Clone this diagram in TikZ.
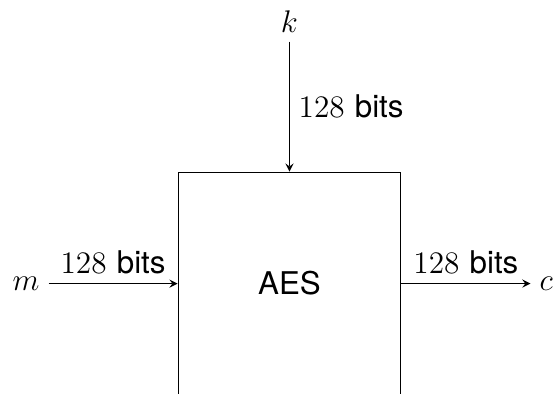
\documentclass[tikz,border=0pt]{standalone}
\usepackage{fontspec}
\setsansfont{TeX Gyre Heros}
\begin{document}
\begin{tikzpicture}[>=stealth, every node/.style={font=\fontsize{12}{14.4}\selectfont}]
\clip (-3.90,-1.48) rectangle (3.55,3.82);
\node[draw, minimum size=3cm] (aes) at (0,0) {\textsf{AES}};
\node (k) at (0,3.53) {$k$};
\node (m) at (-3.55,0) {$m$};
\node (c) at (3.46,0) {$c$};
\draw[->] (k) -- (aes) node[midway, right] {$128$ \textsf{bits}};
\draw[->] (m) -- (aes) node[midway, above] {$128$ \textsf{bits}};
\draw[->] (aes) -- (c) node[midway, above] {$128$ \textsf{bits}};
\end{tikzpicture}
\end{document}
